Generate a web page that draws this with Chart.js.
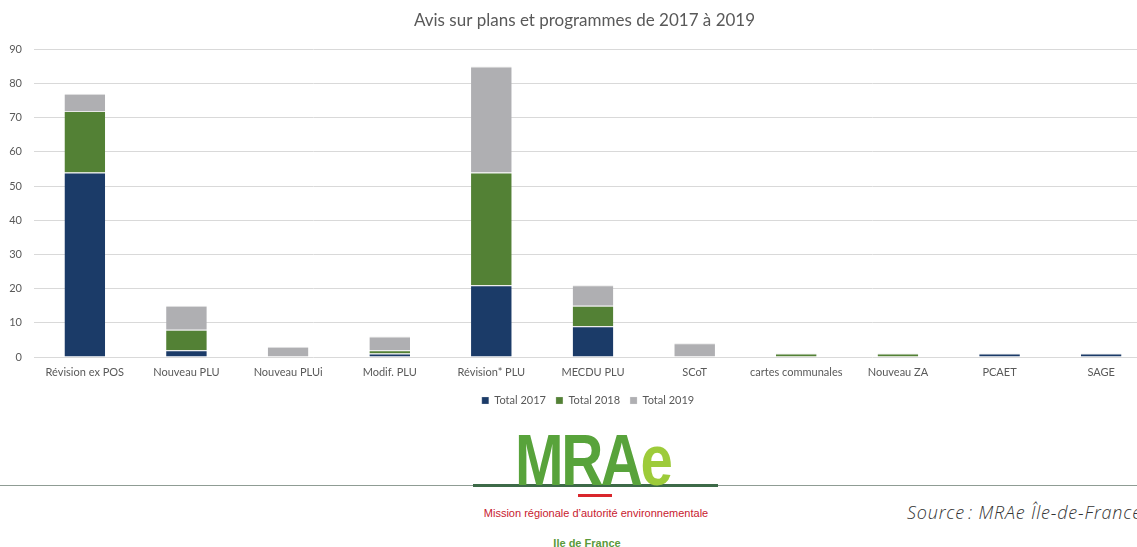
<!DOCTYPE html>
<html lang="fr">
<head>
<meta charset="utf-8">
<script src="https://cdn.jsdelivr.net/npm/chart.js@4.4.1/dist/chart.umd.min.js"></script>
<style>
  html, body { margin: 0; padding: 0; background: #fff; width: 1137px; height: 547px; overflow: hidden; }
  #wrap { position: absolute; left: 0; top: 0; width: 1137px; height: 547px; overflow: hidden; }
  #c { position: absolute; left: 0; top: 0; }
  .abs { position: absolute; white-space: nowrap; }
  #hline { left: 0; top: 485px; width: 1137px; height: 1px; background: #8f9c94; }
  #gline { left: 473px; top: 484px; width: 245px; height: 3px; background: #3d6a48; }
  #logo { left: 515px; top: 424px; font-family: "Liberation Sans Narrow", "Liberation Sans", Arial, sans-serif; font-weight: bold; font-size: 72px; line-height: 72px; letter-spacing: -3px; color: #58a33b; transform: scaleX(0.81); transform-origin: 0 0; }
  #logo span { color: #9dcb3a; }
  #rline { left: 578px; top: 494px; width: 34px; height: 3px; background: #d9262c; }
  #mission { left: 596px; top: 506px; transform: translateX(-50%); font-family: "Liberation Sans", Arial, sans-serif; font-size: 11px; line-height: 14px; color: #c8202f; }
  #idf { left: 587px; top: 536px; transform: translateX(-50%); font-family: "Liberation Sans Narrow", "Liberation Sans", Arial, sans-serif; font-weight: bold; font-size: 11px; line-height: 14px; color: #5a9a3a; }
  #source { left: 907px; top: 501px; font-family: "Open Sans", Lato, sans-serif; font-style: italic; font-weight: 300; font-size: 18px; line-height: 22px; letter-spacing: 0.8px; color: #333; }
</style>
</head>
<body>
<div id="wrap">
  <canvas id="c" width="1169" height="420"></canvas>
  <div class="abs" id="hline"></div>
  <div class="abs" id="gline"></div>
  <div class="abs" id="logo">MRA<span>e</span></div>
  <div class="abs" id="rline"></div>
  <div class="abs" id="mission">Mission régionale d’autorité environnementale</div>
  <div class="abs" id="idf">Ile de France</div>
  <div class="abs" id="source">Source&#8239;: MRAe Île-de-France</div>
</div>
<script>
const chartTitle = "Avis sur plans et programmes de 2017 à 2019";
const categories = ["Révision ex POS", "Nouveau PLU", "Nouveau PLUi", "Modif. PLU", "Révision* PLU", "MECDU PLU", "SCoT", "cartes communales", "Nouveau ZA", "PCAET", "SAGE"];
const seriesNames = ["Total 2017", "Total 2018", "Total 2019"];
const total2017 = [54, 2, 0, 1, 21, 9, 0, 0, 0, 1, 1];
const total2018 = [18, 6, 0, 1, 33, 6, 0, 1, 1, 0, 0];
const total2019 = [5, 7, 3, 4, 31, 6, 4, 0, 0, 0, 0];
const yTicks = [0, 10, 20, 30, 40, 50, 60, 70, 80, 90];

const colors = ["#1b3b68", "#538135", "#afafb2"];
const seriesValues = [total2017, total2018, total2019];
const font = "Lato, 'Open Sans', sans-serif";

const shiftBoxes = {
  id: "shiftBoxes",
  afterLayout(chart) {
    if (chart.titleBlock) { chart.titleBlock.left += 17; }
    if (chart.legend) { chart.legend.left += 24; }
  }
};

new Chart(document.getElementById("c"), {
  type: "bar",
  plugins: [shiftBoxes],
  data: {
    labels: categories,
    datasets: seriesNames.map((n, i) => ({
      label: n,
      data: seriesValues[i],
      backgroundColor: colors[i],
      borderColor: "#e8e8e8",
      borderWidth: { top: 1 },
      borderSkipped: "start",
      categoryPercentage: 1,
      barPercentage: 0.4
    }))
  },
  options: {
    responsive: false,
    devicePixelRatio: 1,
    animation: false,
    layout: { padding: { left: 0, right: 17, top: 0, bottom: 4 } },
    plugins: {
      tooltip: { enabled: false },
      title: {
        display: true,
        text: chartTitle,
        color: "#595959",
        font: { family: font, size: 17, weight: "normal" },
        padding: { top: 10, bottom: 19 }
      },
      legend: {
        display: true,
        position: "bottom",
        labels: {
          boxWidth: 7,
          boxHeight: 7,
          padding: 10,
          color: "#595959",
          font: { family: font, size: 11 }
        }
      }
    },
    scales: {
      x: {
        stacked: true,
        grid: { display: false, drawTicks: false },
        border: { display: false },
        afterFit: (s) => { s.height = 28; },
        ticks: { autoSkip: false, maxRotation: 0, padding: 9, color: "#595959", font: { family: font, size: 11 } }
      },
      y: {
        stacked: true,
        min: 0,
        max: 90,
        afterBuildTicks: (s) => { s.ticks = yTicks.map(v => ({ value: v })); },
        afterFit: (s) => { s.width = 34; },
        grid: { color: "#d9d9d9", drawTicks: false, lineWidth: 1 },
        border: { display: false },
        ticks: { padding: 12, color: "#595959", font: { family: font, size: 11 } }
      }
    }
  }
});
</script>
</body>
</html>
